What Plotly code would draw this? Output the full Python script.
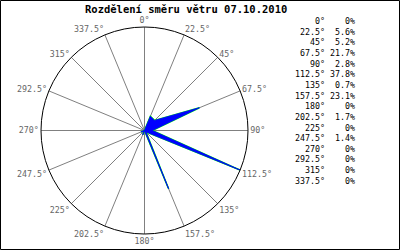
import plotly.graph_objects as go

title_text = "Rozdělení směru větru 07.10.2010"
directions = [0, 22.5, 45, 67.5, 90, 112.5, 135, 157.5, 180, 202.5, 225, 247.5, 270, 292.5, 315, 337.5]
dir_labels = ["0°", "22.5°", "45°", "67.5°", "90°", "112.5°", "135°", "157.5°", "180°",
              "202.5°", "225°", "247.5°", "270°", "292.5°", "315°", "337.5°"]
percent = [0, 5.6, 5.2, 21.7, 2.8, 37.8, 0.7, 23.1, 0, 1.7, 0, 1.4, 0, 0, 0, 0]
percent_labels = ["0%", "5.6%", "5.2%", "21.7%", "2.8%", "37.8%", "0.7%", "23.1%", "0%",
                  "1.7%", "0%", "1.4%", "0%", "0%", "0%", "0%"]

W, H = 400, 250
FONT = "DejaVu Sans Mono"

fig = go.Figure()
# green outline underneath
fig.add_trace(go.Scatterpolar(
    r=percent + [percent[0]],
    theta=directions + [directions[0]],
    mode="lines",
    line=dict(color="#00ff00", width=1.6),
    hoverinfo="skip",
))
# blue fill on top
fig.add_trace(go.Scatterpolar(
    r=percent + [percent[0]],
    theta=directions + [directions[0]],
    mode="lines",
    fill="toself",
    fillcolor="#0000ff",
    line=dict(color="#0000ff", width=0.9),
    hoverinfo="skip",
))

# polar placement (pixels)
cx, cy, rad = 144.5, 130.5, 103.5
dom_x = [(cx - rad) / W, (cx + rad) / W]
dom_y = [1 - (cy + rad) / H, 1 - (cy - rad) / H]

fig.update_layout(
    width=W, height=H,
    margin=dict(l=0, r=0, t=0, b=0),
    paper_bgcolor="white",
    plot_bgcolor="white",
    showlegend=False,
    font=dict(family=FONT, size=8, color="#666666"),
    polar=dict(
        domain=dict(x=dom_x, y=dom_y),
        bgcolor="white",
        angularaxis=dict(
            direction="clockwise",
            rotation=90,
            tickmode="array",
            tickvals=directions,
            ticktext=dir_labels,
            ticks="",
            showline=True,
            linecolor="black",
            linewidth=1,
            showgrid=True,
            gridcolor="#808080",
            gridwidth=1,
            tickfont=dict(family=FONT, size=8.3, color="#666666"),
        ),
        radialaxis=dict(
            range=[0, max(percent)],
            showline=False,
            showticklabels=False,
            showgrid=False,
            ticks="",
        ),
    ),
)

# title
fig.add_annotation(
    text="<b>" + title_text + "</b>",
    x=186 / W, y=1 - 9 / H, xref="paper", yref="paper",
    xanchor="center", yanchor="middle", showarrow=False,
    font=dict(family=FONT, size=10.5, color="black"),
)

# legend table
row0, step = 21, 10.65
for i, (d, p) in enumerate(zip(dir_labels, percent_labels)):
    yy = 1 - (row0 + i * step) / H
    fig.add_annotation(text=d, x=327 / W, y=yy, xref="paper", yref="paper",
                       xanchor="right", yanchor="middle", showarrow=False,
                       font=dict(family=FONT, size=8.3, color="black"))
    fig.add_annotation(text=p, x=357 / W, y=yy, xref="paper", yref="paper",
                       xanchor="right", yanchor="middle", showarrow=False,
                       font=dict(family=FONT, size=8.3, color="black"))

# border
fig.add_shape(type="rect", xref="paper", yref="paper",
              x0=0.5 / W, x1=1 - 0.5 / W, y0=0.5 / H, y1=1 - 0.5 / H,
              line=dict(color="black", width=1))

fig.write_html("out.html")
